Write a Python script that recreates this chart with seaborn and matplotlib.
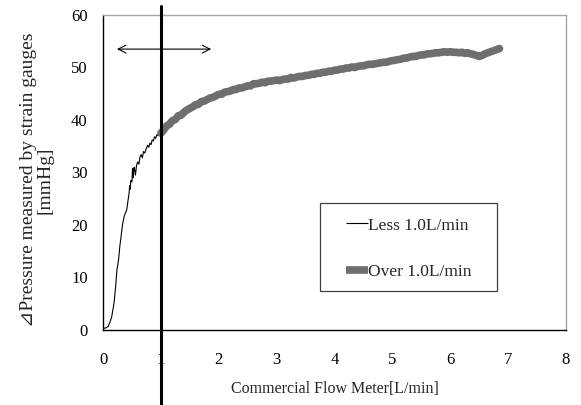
import numpy as np
import pandas as pd

import matplotlib
matplotlib.use("Agg")
import matplotlib.pyplot as plt
from matplotlib.patches import Rectangle
import seaborn as sns

# flow < 1.0 L/min (thin black trace)
less_x = [0.00, 0.05, 0.09, 0.12, 0.15, 0.17, 0.19, 0.22, 0.24, 0.27, 0.29, 0.32,
          0.34, 0.37, 0.41, 0.43, 0.45, 0.46, 0.47, 0.48, 0.50, 0.51, 0.52, 0.53,
          0.54, 0.56, 0.58, 0.60, 0.62, 0.64, 0.66, 0.68, 0.70, 0.72, 0.75, 0.77,
          0.79, 0.81, 0.83, 0.85, 0.87, 0.89, 0.91, 0.93, 0.95, 0.97, 1.00]
less_y = [0.3, 0.4, 0.7, 1.5, 2.5, 3.8, 5.1, 8.5, 11.4, 13.5, 15.9, 18.5,
          20.3, 21.8, 22.9, 24.5, 26.0, 27.5, 26.8, 28.5, 28.2, 30.8, 29.0, 30.5,
          31.0, 29.5, 31.4, 32.0, 31.6, 33.0, 33.4, 32.8, 34.0, 33.7, 34.6, 35.2,
          34.8, 35.6, 35.3, 36.2, 36.0, 36.8, 36.5, 37.2, 37.0, 37.6, 37.8]

# flow > 1.0 L/min (thick gray trace)
over_x = [1.00, 1.05, 1.10, 1.15, 1.20, 1.25, 1.30, 1.35, 1.40, 1.45, 1.50, 1.55,
          1.60, 1.65, 1.70, 1.75, 1.80, 1.85, 1.90, 1.95, 2.00, 2.05, 2.10, 2.15,
          2.20, 2.25, 2.30, 2.35, 2.40, 2.45, 2.50, 2.55, 2.60, 2.65, 2.70, 2.75,
          2.80, 2.85, 2.90, 2.95, 3.00, 3.05, 3.10, 3.15, 3.20, 3.25, 3.30, 3.35,
          3.40, 3.45, 3.50, 3.55, 3.60, 3.65, 3.70, 3.75, 3.80, 3.85, 3.90, 3.95,
          4.00, 4.05, 4.10, 4.15, 4.20, 4.25, 4.30, 4.35, 4.40, 4.45, 4.50, 4.55,
          4.60, 4.65, 4.70, 4.75, 4.80, 4.85, 4.90, 4.95, 5.00, 5.05, 5.10, 5.15,
          5.20, 5.25, 5.30, 5.35, 5.40, 5.45, 5.50, 5.55, 5.60, 5.65, 5.70, 5.75,
          5.80, 5.85, 5.90, 5.95, 6.00, 6.05, 6.10, 6.15, 6.20, 6.25, 6.30, 6.35,
          6.40, 6.45, 6.50, 6.55, 6.60, 6.65, 6.70, 6.75, 6.80, 6.85]
over_y = [37.5, 38.1, 38.9, 39.2, 39.9, 40.1, 40.8, 40.9, 41.5, 41.9, 42.2, 42.5,
          42.9, 43.0, 43.5, 43.6, 43.9, 44.2, 44.3, 44.6, 44.9, 44.9, 45.3, 45.4,
          45.5, 45.8, 45.8, 46.1, 46.1, 46.3, 46.5, 46.5, 46.9, 46.9, 47.0, 47.2,
          47.1, 47.4, 47.4, 47.5, 47.6, 47.5, 47.7, 47.8, 47.8, 48.1, 48.0, 48.2,
          48.3, 48.3, 48.5, 48.5, 48.7, 48.7, 48.9, 48.9, 49.1, 49.1, 49.3, 49.3,
          49.5, 49.5, 49.7, 49.7, 49.9, 49.9, 50.1, 50.0, 50.2, 50.3, 50.3, 50.5,
          50.6, 50.6, 50.7, 50.8, 50.9, 51.0, 51.0, 51.2, 51.3, 51.4, 51.5, 51.6,
          51.8, 51.8, 52.0, 52.1, 52.1, 52.3, 52.4, 52.4, 52.6, 52.6, 52.7, 52.8,
          52.8, 52.9, 53.0, 52.9, 53.0, 52.9, 52.9, 52.8, 52.9, 52.7, 52.8, 52.6,
          52.5, 52.3, 52.1, 52.3, 52.6, 52.8, 53.0, 53.2, 53.4, 53.6]

x_ticks = [0, 1, 2, 3, 4, 5, 6, 7, 8]
y_ticks = [0, 10, 20, 30, 40, 50, 60]

less = pd.DataFrame({"flow": less_x, "pressure": less_y})
over = pd.DataFrame({"flow": over_x, "pressure": over_y})

sns.set_style("white")
plt.rcParams["font.family"] = ["Liberation Serif", "DejaVu Serif", "DejaVu Sans"]
plt.rcParams["font.size"] = 12

fig = plt.figure(figsize=(5.81, 4.05), dpi=100)
ax = fig.add_axes([0.1773, 0.1852, 0.7969, 0.7778])

sns.lineplot(data=less, x="flow", y="pressure", ax=ax, color="black",
             linewidth=0.8, label="Less 1.0L/min", sort=False)
sns.lineplot(data=over, x="flow", y="pressure", ax=ax, color="#6e6e6e",
             linewidth=5.5, label="Over 1.0L/min", sort=False)

ax.set_xlim(0, 8)
ax.set_ylim(0, 60)
ax.set_xticks(x_ticks)
ax.set_yticks(y_ticks)
ax.tick_params(direction="in", length=4, width=0.8, colors="black", labelsize=12)
ax.tick_params(axis="x", pad=16)
ax.tick_params(axis="y", pad=11)

for side in ["left", "bottom"]:
    ax.spines[side].set_color("black")
    ax.spines[side].set_linewidth(1.0)
for side in ["top", "right"]:
    ax.spines[side].set_color("#a6a6a6")
    ax.spines[side].set_linewidth(1.0)

# 1.0 L/min boundary, runs past the plot area
ax.axvline(1.0, ymin=-0.24, ymax=1.03, color="black", linewidth=2.2,
           clip_on=False, zorder=5)

ax.annotate("", xy=(0.24, 53.5), xytext=(1.87, 53.5),
            arrowprops=dict(arrowstyle="<->", lw=0.8, color="black",
                            mutation_scale=14, shrinkA=0, shrinkB=0))

ax.set_xlabel("Commercial Flow Meter[L/min]", fontsize=11.5)
ax.xaxis.set_label_coords(0.501, -0.163)
ax.set_ylabel("⊿Pressure measured by strain gauges\n[mmHg]", fontsize=14,
              linespacing=0.95)
ax.yaxis.set_label_coords(-0.108, 0.476)

# legend box drawn separately so its padding matches
ax.add_patch(Rectangle((0.4687, 0.124), 0.382, 0.279, transform=ax.transAxes,
                       fill=True, facecolor="white", edgecolor="#404040",
                       linewidth=0.9, zorder=6))
leg = ax.legend(loc="center", bbox_to_anchor=(0.66, 0.258),
                borderaxespad=0, frameon=False, handlelength=1.3,
                handletextpad=0.0, labelspacing=1.75, borderpad=0,
                fontsize=12.5)
leg.set_zorder(7)
for h in leg.get_lines():
    h.set_solid_capstyle("butt")

fig.savefig("out.png", dpi=100)
plt.close(fig)
